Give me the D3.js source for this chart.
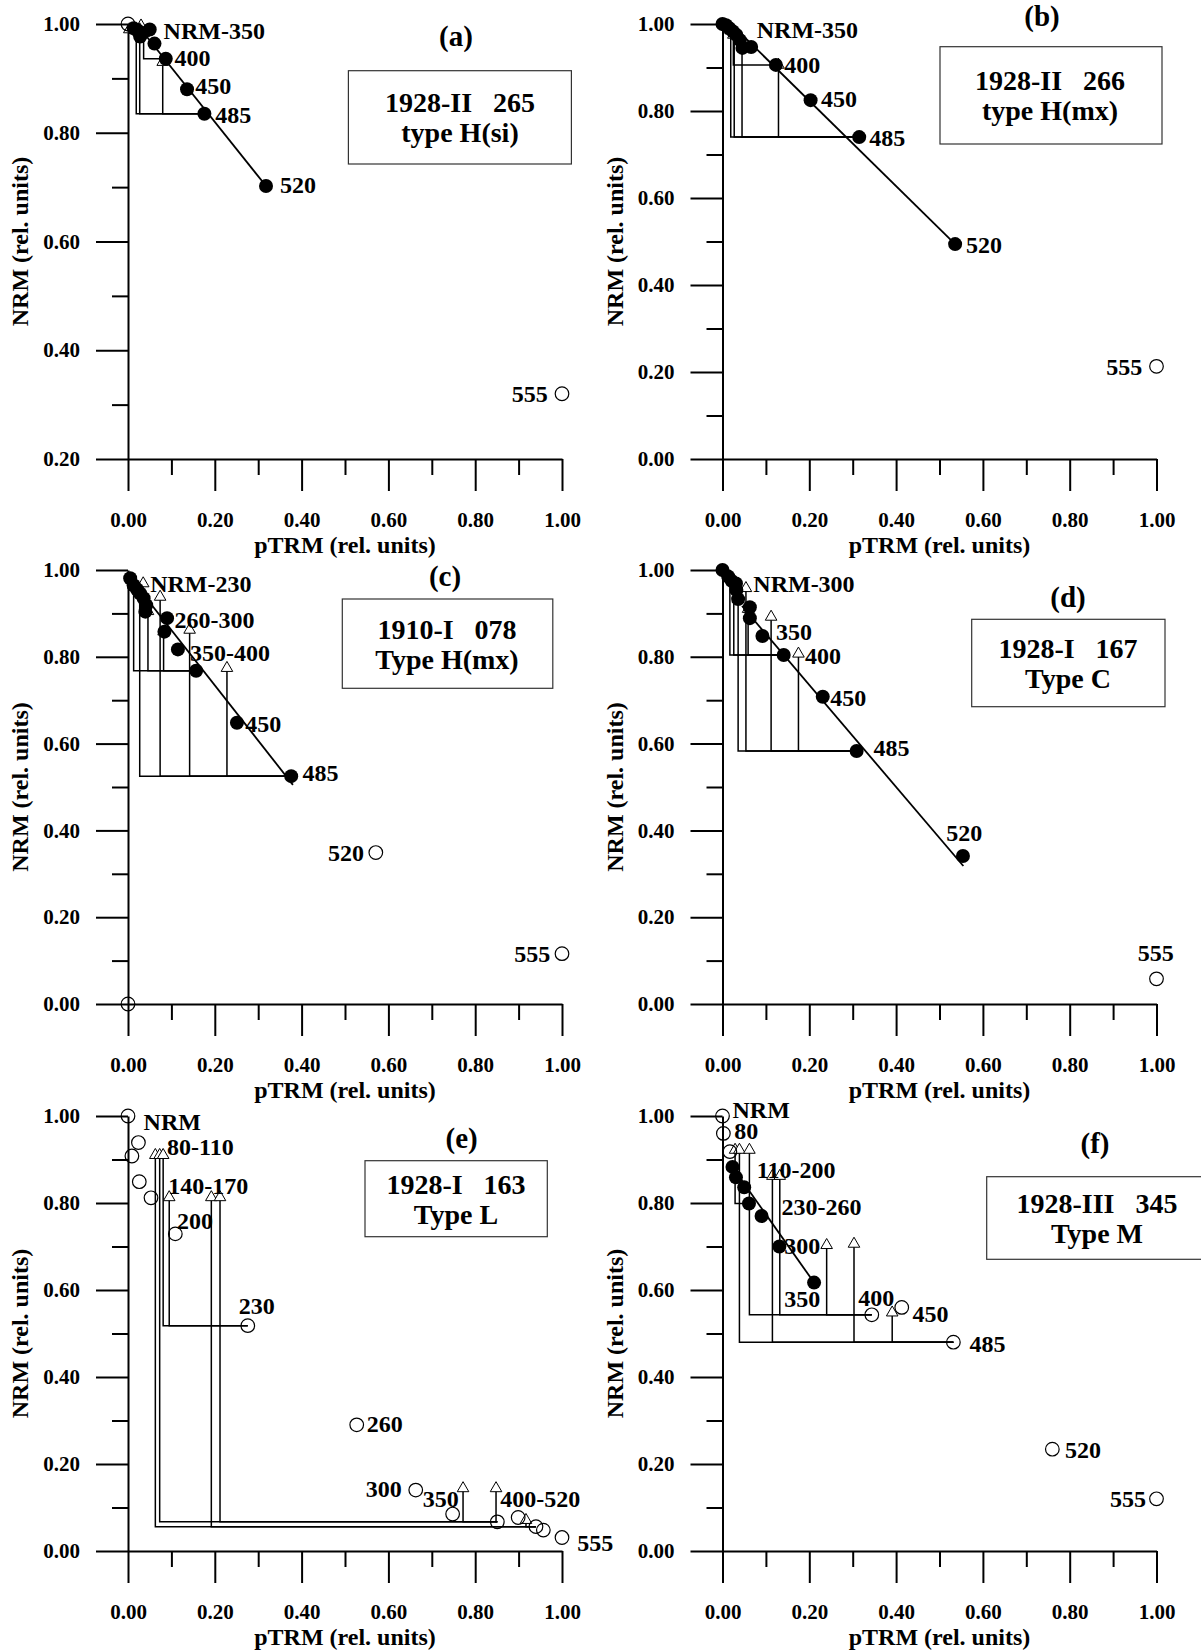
<!DOCTYPE html>
<html>
<head>
<meta charset="utf-8">
<script src="https://cdn.jsdelivr.net/npm/d3@7"></script>
<style>
  body { margin: 0; background: #fff; }
  svg { display: block; font-family: "Liberation Serif", "Times New Roman", serif; font-weight: bold; }
  .box text { white-space: pre; }
</style>
</head>
<body>
<script>
// ---------------- data ----------------
// points: [pTRM, NRM, used in fit (1 = filled) / not used (0 = open)]
// checks: [pTRM of check, NRM level, index of point it refers to (-1 = no lines)]
// labels: [text, pTRM, NRM, anchor]

// (a) 1928-II 265
const ptsA = [[0.000,1.000,0],[0.013,0.992,1],[0.022,0.988,1],[0.032,0.983,1],[0.028,0.977,1],[0.050,0.990,1],
  [0.061,0.964,1],[0.087,0.936,1],[0.136,0.880,1],[0.176,0.835,1],[0.318,0.702,1],[1.000,0.320,0]];
const chkA = [[0.003,0.990,-1],[0.030,0.997,-1],[0.036,0.983,7],[0.019,0.990,9],[0.027,0.990,9],[0.080,0.930,9]];
const fitA = [[0.030,0.990],[0.318,0.702]];
const lblA = [["NRM-350",0.082,0.988],["400",0.107,0.939],["450",0.155,0.886],["485",0.201,0.834],
  ["520",0.350,0.704],["555",0.967,0.320,"end"]];
const infoA = ["1928-II   265", "type H(si)"];

// (b) 1928-II 266
const ptsB = [[0.000,1.000,1],[0.008,0.997,1],[0.016,0.990,1],[0.024,0.983,1],[0.032,0.975,1],[0.040,0.963,1],
  [0.046,0.945,1],[0.066,0.947,1],[0.123,0.906,1],[0.203,0.825,1],[0.315,0.740,1],[0.536,0.494,1],[1.000,0.213,0]];
const chkB = [[0.025,0.975,8],[0.019,0.985,10],[0.027,0.980,10],[0.045,0.950,10],[0.129,0.906,10]];
const fitB = [[0.030,0.990],[0.536,0.494]];
const lblB = [["NRM-350",0.079,0.988],["400",0.142,0.906],["450",0.227,0.828],["485",0.338,0.740],
  ["520",0.561,0.494],["555",0.967,0.213,"end"]];
const infoB = ["1928-II   266", "type H(mx)"];

// (c) 1910-I 078
const ptsC = [[0.000,0.000,0],[0.005,0.981,1],[0.013,0.965,1],[0.021,0.955,1],[0.028,0.946,1],[0.036,0.935,1],
  [0.042,0.919,1],[0.040,0.904,1],[0.090,0.889,1],[0.084,0.858,1],[0.115,0.817,1],[0.157,0.768,1],
  [0.251,0.648,1],[0.376,0.525,1],[0.571,0.349,0],[1.000,0.116,0]];
const chkC = [[0.013,0.965,11],[0.046,0.905,11],[0.082,0.858,11],[0.035,0.969,-1],[0.027,0.946,13],
  [0.074,0.938,13],[0.142,0.862,13],[0.228,0.774,13]];
const fitC = [[0.003,0.985],[0.380,0.505]];
const lblC = [["NRM-230",0.051,0.969],["260-300",0.107,0.885],["350-400",0.143,0.810],["450",0.270,0.645],
  ["485",0.402,0.533],["520",0.544,0.349,"end"],["555",0.973,0.116,"end"]];
const infoC = ["1910-I   078", "Type H(mx)"];

// (d) 1928-I 167
const ptsD = [[0.000,1.000,1],[0.013,0.985,1],[0.021,0.975,1],[0.031,0.969,1],[0.032,0.954,1],[0.036,0.933,1],
  [0.063,0.914,1],[0.063,0.889,1],[0.092,0.848,1],[0.141,0.804,1],[0.231,0.708,1],[0.309,0.583,1],
  [0.554,0.341,1],[1.000,0.058,0]];
const chkD = [[0.017,0.985,9],[0.026,0.975,9],[0.059,0.910,9],[0.036,0.933,11],[0.054,0.958,11],
  [0.112,0.892,11],[0.175,0.807,11]];
const fitD = [[0.045,0.917],[0.555,0.318]];
const lblD = [["NRM-300",0.071,0.969],["350",0.123,0.858],["400",0.190,0.802],["450",0.248,0.707],
  ["485",0.348,0.590],["520",0.557,0.395,"middle"],["555",0.998,0.118,"middle"]];
const infoD = ["1928-I   167", "Type C"];

// (e) 1928-I 163
const ptsE = [[0.000,1.000,0],[0.024,0.939,0],[0.009,0.908,0],[0.026,0.849,0],[0.053,0.812,0],[0.109,0.729,0],
  [0.276,0.518,0],[0.527,0.290,0],[0.663,0.140,0],[0.748,0.085,0],[0.851,0.067,0],[0.899,0.077,0],
  [0.940,0.056,0],[0.957,0.048,0],[1.000,0.031,0]];
const chkE = [[0.063,0.910,12],[0.073,0.910,10],[0.081,0.910,6],[0.095,0.813,6],[0.192,0.813,12],
  [0.212,0.813,10],[0.772,0.144,10],[0.848,0.144,10],[0.917,0.071,12]];
const fitE = [];
const lblE = [["NRM",0.036,0.987],["80-110",0.090,0.929],["140-170",0.093,0.839],["200",0.113,0.759],
  ["230",0.255,0.563],["260",0.550,0.294],["300",0.631,0.144,"end"],["350",0.679,0.121],
  ["400-520",0.858,0.121],["555",1.035,0.019]];
const infoE = ["1928-I   163", "Type L"];

// (f) 1928-III 345
const ptsF = [[0.000,1.000,0],[0.002,0.960,0],[0.017,0.918,0],[0.023,0.883,1],[0.031,0.859,1],[0.050,0.836,1],
  [0.061,0.799,1],[0.090,0.770,1],[0.131,0.700,1],[0.211,0.617,1],[0.344,0.543,0],[0.413,0.560,0],
  [0.532,0.480,0],[0.760,0.234,0],[1.000,0.120,0]];
const chkF = [[0.029,0.922,6],[0.039,0.922,12],[0.062,0.922,10],[0.115,0.862,12],[0.132,0.862,10],
  [0.240,0.703,10],[0.303,0.706,12],[0.391,0.548,12]];
const fitF = [[0.017,0.891],[0.211,0.617]];
const lblF = [["NRM",0.023,1.014],["80",0.027,0.966],["110-200",0.079,0.876],["230-260",0.136,0.792],
  ["300",0.142,0.701],["350",0.142,0.581],["400",0.313,0.583],["450",0.438,0.546],["485",0.569,0.477],
  ["520",0.789,0.234],["555",0.976,0.120,"end"]];
const infoF = ["1928-III   345", "Type M"];

// ---------------- layout ----------------
const W = 1201, H = 1651;
const colL = [128, 562], colR = [722.5, 1156.5];
const rows = [[24, 459], [570, 1004], [1116, 1551]];

const panels = [
  { tag: "(a)", pts: ptsA, chk: chkA, fit: fitA, lbl: lblA, info: infoA, col: colL, row: rows[0], yMin: 0.2,
    letter: [456, 46], box: [348.4, 70.7, 223, 93.3], boxMid: 460 },
  { tag: "(b)", pts: ptsB, chk: chkB, fit: fitB, lbl: lblB, info: infoB, col: colR, row: rows[0], yMin: 0,
    letter: [1042, 26], box: [940, 46.7, 222, 97.3], boxMid: 1050 },
  { tag: "(c)", pts: ptsC, chk: chkC, fit: fitC, lbl: lblC, info: infoC, col: colL, row: rows[1], yMin: 0,
    letter: [445, 586], box: [342.3, 599, 210.5, 89.3], boxMid: 447 },
  { tag: "(d)", pts: ptsD, chk: chkD, fit: fitD, lbl: lblD, info: infoD, col: colR, row: rows[1], yMin: 0,
    letter: [1068, 607], box: [971.7, 619.3, 193.3, 87.4], boxMid: 1068 },
  { tag: "(e)", pts: ptsE, chk: chkE, fit: fitE, lbl: lblE, info: infoE, col: colL, row: rows[2], yMin: 0,
    letter: [461.7, 1148], box: [365, 1160.7, 182.3, 76], boxMid: 456 },
  { tag: "(f)", pts: ptsF, chk: chkF, fit: fitF, lbl: lblF, info: infoF, col: colR, row: rows[2], yMin: 0,
    letter: [1095, 1153], box: [986.7, 1176.7, 240, 82.6], boxMid: 1097 }
];

const svg = d3.select("body").append("svg").attr("width", W).attr("height", H);
const fmt = d3.format(".2f");
const tri = d3.symbol(d3.symbolTriangle, 58);

function styleAxis(g, size) {
  g.attr("font-family", null).attr("font-size", size);
  g.selectAll("path, line").attr("stroke", "#000").attr("stroke-width", 2);
  g.selectAll("text").attr("fill", "#000");
}

panels.forEach(p => {
  const g = svg.append("g");
  const x = d3.scaleLinear().domain([0, 1]).range(p.col);
  const y = d3.scaleLinear().domain([p.yMin, 1]).range([p.row[1], p.row[0]]);

  const xMaj = [0, 0.2, 0.4, 0.6, 0.8, 1.0], xMin = [0.1, 0.3, 0.5, 0.7, 0.9];
  const yMaj = xMaj.filter(v => v >= p.yMin - 1e-9), yMin = xMin.filter(v => v > p.yMin);

  // axes: long major ticks with labels, short minor ticks
  g.append("g").attr("transform", `translate(0,${p.row[1]})`)
    .call(d3.axisBottom(x).tickValues(xMaj).tickSize(32).tickSizeOuter(0).tickPadding(21).tickFormat(fmt))
    .call(a => styleAxis(a, 21));
  g.append("g").attr("transform", `translate(0,${p.row[1]})`)
    .call(d3.axisBottom(x).tickValues(xMin).tickSize(16).tickFormat(""))
    .call(a => { a.select(".domain").remove(); styleAxis(a, 21); });
  g.append("g").attr("transform", `translate(${p.col[0]},0)`)
    .call(d3.axisLeft(y).tickValues(yMaj).tickSize(32).tickSizeOuter(0).tickPadding(16).tickFormat(fmt))
    .call(a => styleAxis(a, 21));
  g.append("g").attr("transform", `translate(${p.col[0]},0)`)
    .call(d3.axisLeft(y).tickValues(yMin).tickSize(16).tickFormat(""))
    .call(a => { a.select(".domain").remove(); styleAxis(a, 21); });

  // axis titles
  g.append("text").attr("x", (p.col[0] + p.col[1]) / 2).attr("y", p.row[1] + 94)
    .attr("text-anchor", "middle").attr("font-size", 24).text("pTRM (rel. units)");
  g.append("text")
    .attr("transform", `translate(${p.col[0] - 100},${(p.row[0] + p.row[1]) / 2}) rotate(-90)`)
    .attr("text-anchor", "middle").attr("font-size", 24).text("NRM (rel. units)");

  // pTRM check lines: vertical down to the point's NRM level, then across to the point
  const linked = p.chk.filter(c => c[2] >= 0);
  g.append("g").selectAll("path").data(linked).join("path")
    .attr("d", c => {
      const r = p.pts[c[2]];
      return `M${x(c[0])},${y(c[1])}V${y(r[1])}H${x(r[0])}`;
    })
    .attr("fill", "none").attr("stroke", "#000").attr("stroke-width", 1.5);

  // fit line
  if (p.fit.length) {
    g.append("path").datum(p.fit)
      .attr("d", d3.line().x(d => x(d[0])).y(d => y(d[1])))
      .attr("fill", "none").attr("stroke", "#000").attr("stroke-width", 1.8);
  }

  // check triangles
  g.append("g").selectAll("path").data(p.chk).join("path")
    .attr("d", tri)
    .attr("transform", c => `translate(${x(c[0])},${y(c[1])})`)
    .attr("fill", "#fff").attr("stroke", "#000").attr("stroke-width", 1);

  // points
  g.append("g").selectAll("circle").data(p.pts).join("circle")
    .attr("cx", d => x(d[0])).attr("cy", d => y(d[1]))
    .attr("r", d => d[2] ? 7 : 6.8)
    .attr("fill", d => d[2] ? "#000" : "none")
    .attr("stroke", "#000").attr("stroke-width", d => d[2] ? 0 : 1.2);

  // temperature labels
  g.append("g").selectAll("text").data(p.lbl).join("text")
    .attr("x", d => x(d[1])).attr("y", d => y(d[2])).attr("dy", "0.35em")
    .attr("text-anchor", d => d[3] || "start")
    .attr("font-size", 24).text(d => d[0]);

  // panel letter and sample box
  g.append("text").attr("x", p.letter[0]).attr("y", p.letter[1])
    .attr("text-anchor", "middle").attr("font-size", 29).text(p.tag);
  const [bx, by, bw, bh] = p.box;
  const box = g.append("g").attr("class", "box");
  box.append("rect").attr("x", bx).attr("y", by).attr("width", bw).attr("height", bh)
    .attr("fill", "none").attr("stroke", "#333").attr("stroke-width", 1.2);
  box.selectAll("text").data(p.info).join("text")
    .attr("x", p.boxMid)
    .attr("y", (d, i) => by + bh / 2 - 5 + i * 30)
    .attr("text-anchor", "middle").attr("font-size", 28).text(d => d);
});
</script>
</body>
</html>
